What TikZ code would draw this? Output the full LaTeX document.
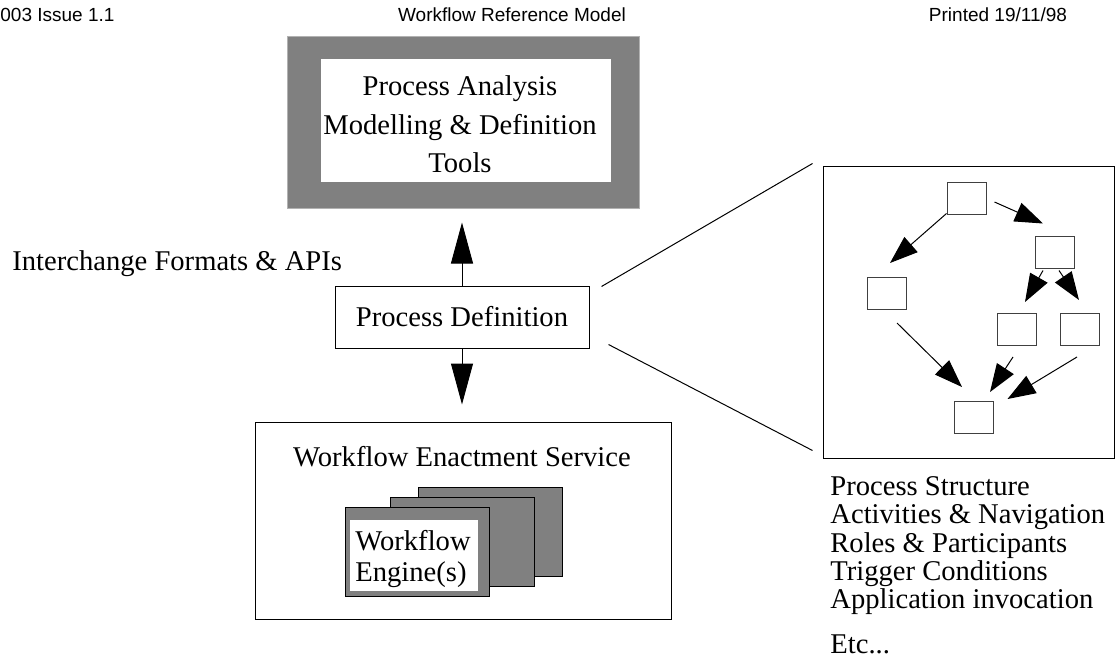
\documentclass[tikz,border=0pt]{standalone}
\usepackage{fontspec}
\setmainfont{Liberation Serif}
\newfontfamily\headerfont{Liberation Sans}
\usepackage{tikz}
\usetikzlibrary{shapes.geometric,arrows.meta,positioning,calc}
\definecolor{shade}{rgb}{0.5,0.5,0.5}
\tikzstyle{box} = [rectangle, draw = black, line width = 0.5pt, inner sep = 0pt]
\tikzstyle{panel} = [rectangle, fill = shade, draw = black!30, line width = 0.5pt, inner sep = 0pt]
\tikzstyle{window} = [rectangle, fill = white, inner sep = 0pt]
\tikzstyle{card} = [rectangle, fill = shade, draw = black, line width = 0.5pt, inner sep = 0pt, minimum width = 72pt, minimum height = 44.5pt]
\tikzstyle{activity} = [rectangle, draw = black!75, line width = 0.5pt, inner sep = 0pt, minimum width = 19.5pt, minimum height = 16pt]
\tikzstyle{txt} = [inner sep = 0pt, font = \fontsize{14.3}{14.2}\selectfont]
\tikzstyle{header} = [inner sep = 0pt, font = \headerfont\fontsize{9.5}{11}\selectfont]
\tikzstyle{bigarrow} = [line width = 0.5pt, -{Triangle[length = 20.5pt, width = 11pt]}]
\tikzstyle{arrow} = [line width = 0.5pt, -{Triangle[length = 14pt, width = 10pt]}]
\tikzstyle{link} = [line width = 0.5pt]

\begin{document}
\begin{tikzpicture}[x = 0.5pt, y = -0.5pt]
    \useasboundingbox (0,0) rectangle (1115,659);
    % page header
    \node (issue) [header, anchor = base west] at (0,21) {003 Issue 1.1};
    \node (title) [header, anchor = base] at (512,21) {Workflow Reference Model};
    \node (printed) [header, anchor = base] at (998,21) {Printed 19/11/98};

    % tools
    \node (tools) [panel, minimum width = 176pt, minimum height = 86pt] at (463,122) {};
    \node (tools-inner) [window, minimum width = 145pt, minimum height = 61.5pt] at (466,120.5) {};
    \node (tools-text) [txt, align = center, anchor = north, font = \fontsize{14.3}{19.25}\selectfont] at (460,75.5) {Process Analysis\\Modelling \& Definition\\Tools};
    \node (interchange) [txt, anchor = base west] at (12,270) {Interchange Formats \& APIs};
    \node (definition) [box, txt, minimum width = 127pt, minimum height = 31pt] at (462,317) {Process Definition};

    % enactment service
    \node (enactment) [box, minimum width = 208pt, minimum height = 98.5pt] at (463,520.5) {};
    \node (enactment-title) [txt, anchor = base] at (462,466) {Workflow Enactment Service};
    \node (engine-back) [card] at (490.5,531.5) {};
    \node (engine-mid) [card] at (462,541.5) {};
    \node (engine) [card] at (417.5,551.5) {};
    \node (engine-inner) [window, minimum width = 64pt, minimum height = 35.5pt] at (414,555.5) {};
    \node (engine-text) [txt, align = left, anchor = north west, font = \fontsize{14.3}{15.5}\selectfont] at (355,529.5) {Workflow\\Engine(s)};

    % process structure
    \node (structure) [box, minimum width = 145.5pt, minimum height = 146pt] at (968.5,312) {};
    \node (act-top) [activity] at (966.5,198) {};
    \node (act-right) [activity] at (1055,252) {};
    \node (act-left) [activity] at (886.5,293.5) {};
    \node (act-split-a) [activity] at (1017,329.5) {};
    \node (act-split-b) [activity] at (1080,329.5) {};
    \node (act-join) [activity] at (973.5,417.5) {};
    \node (features) [txt, align = left, anchor = north west] at (830,476) {Process Structure\\Activities \& Navigation\\Roles \& Participants\\Trigger Conditions\\Application invocation};
    \node (etc) [txt, anchor = base west] at (830,653) {Etc...};

    \draw [bigarrow, shorten > = 7pt] (definition.north) -- (definition.north |- tools.south);
    \draw [bigarrow, shorten > = 8.5pt] (definition.south) -- (definition.south |- enactment.north);
    \draw [link] ([xshift = 6pt, yshift = -0.5pt]definition.north east) -- ([xshift = -5pt, yshift = 1pt]structure.north west);
    \draw [link] ([xshift = 9.5pt, yshift = 2pt]definition.south east) -- ([xshift = -5pt, yshift = 4pt]structure.south west);

    \draw [arrow] ([yshift = 0.5pt]act-top.south west) -- ([xshift = 1.75pt, yshift = 7pt]act-left.north);
    \draw [arrow] ([xshift = 4pt, yshift = -2pt]act-top.east) -- ([xshift = -6pt, yshift = 6pt]act-right.north);
    \draw [arrow] ([xshift = -6pt, yshift = -1pt]act-right.south) -- ([xshift = 4pt, yshift = 5.5pt]act-split-a.north);
    \draw [arrow] ([xshift = 2pt, yshift = -1pt]act-right.south) -- ([xshift = -0.5pt, yshift = 6.5pt]act-split-b.north);
    \draw [arrow] ([xshift = 5.25pt, yshift = -6.5pt]act-left.south) -- ([xshift = -5.75pt, yshift = 7pt]act-join.north);
    \draw [arrow] ([xshift = -2pt, yshift = -5.5pt]act-split-a.south) -- ([xshift = 8.25pt, yshift = 4.5pt]act-join.north);
    \draw [arrow] ([xshift = -1.5pt, yshift = -5.5pt]act-split-b.south) -- ([xshift = 7pt, yshift = 1pt]act-join.north east);
\end{tikzpicture}
\end{document}
